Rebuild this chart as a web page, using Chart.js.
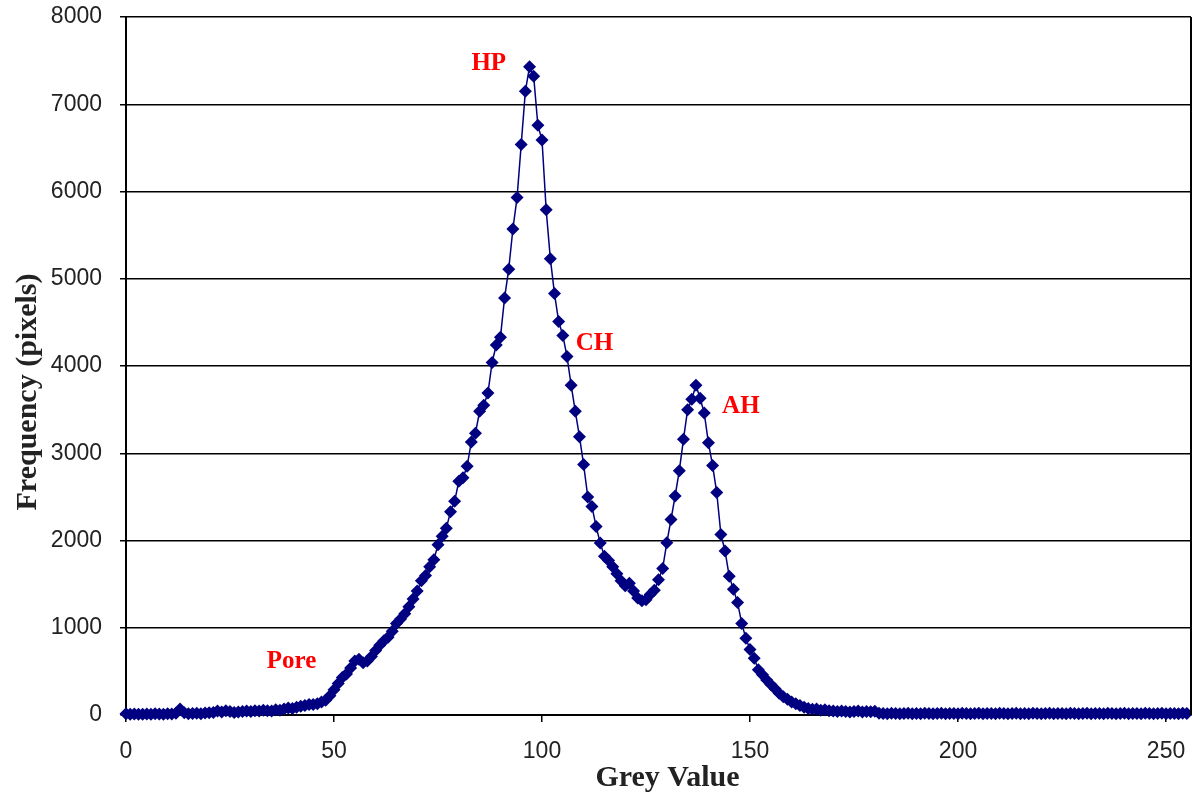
<!DOCTYPE html>
<html>
<head>
<meta charset="utf-8">
<title>Grey value histogram</title>
<script src="https://cdn.jsdelivr.net/npm/chart.js@4.4.0/dist/chart.umd.min.js"></script>
<style>
  html, body { margin: 0; padding: 0; background: #fff; }
  #wrap { width: 1192px; height: 794px; }
</style>
</head>
<body>
<div id="wrap"><canvas id="histo" width="1192" height="794"></canvas></div>
<script>
// grey value 0..255 -> pixel count
const frequency = [
  15, 10, 12, 8, 10, 12, 10, 15, 12, 10,          // 0-9
  15, 12, 20, 70, 25, 15, 18, 20, 15, 22,         // 10-19
  25, 30, 45, 35, 50, 40, 30, 35, 40, 45,         // 20-29
  40, 50, 45, 55, 50, 45, 60, 55, 70, 80,         // 30-39
  75, 90, 100, 110, 120, 120, 130, 150, 170, 220, // 40-49
  290, 360, 430, 470, 540, 620, 640, 600, 620, 670,       // 50-59
  740, 800, 850, 890, 960, 1050, 1100, 1160, 1240, 1330,  // 60-69
  1420, 1540, 1600, 1700, 1780, 1950, 2050, 2140, 2330, 2450, // 70-79
  2680, 2720, 2850, 3130, 3230, 3480, 3550, 3690, 4040, 4240, // 80-89
  4330, 4780, 5110, 5570, 5930, 6540, 7150, 7430, 7320, 6760, // 90-99
  6590, 5790, 5230, 4830, 4510, 4350, 4110, 3780, 3480, 3190, // 100-109
  2870, 2500, 2390, 2160, 1970, 1820, 1770, 1700, 1620, 1540, // 110-119
  1480, 1510, 1420, 1340, 1310, 1320, 1380, 1430, 1550, 1680, // 120-129
  1975, 2240, 2510, 2800, 3160, 3500, 3620, 3780, 3630, 3460, // 130-139
  3120, 2860, 2550, 2070, 1880, 1590, 1440, 1290, 1050, 880,  // 140-149
  750, 650, 520, 460, 400, 350, 300, 250, 210, 180,           // 150-159
  150, 130, 110, 90, 75, 65, 70, 55, 60, 50,                  // 160-169
  45, 40, 45, 40, 35, 40, 45, 35, 40, 38,                     // 170-179
  42, 20, 18, 15, 20, 18, 15, 17, 20, 15,                     // 180-189
  18, 15, 20, 17, 15, 18, 20, 15, 17, 18,                     // 190-199
  15, 20, 18, 15, 17, 20, 15, 18, 17, 15,                     // 200-209
  20, 18, 15, 17, 20, 15, 18, 15, 20, 17,                     // 210-219
  15, 18, 20, 15, 17, 18, 15, 20, 18, 15,                     // 220-229
  17, 20, 15, 18, 17, 15, 20, 18, 15, 17,                     // 230-239
  20, 15, 18, 17, 15, 20, 18, 15, 17, 20,                     // 240-249
  15, 18, 17, 15, 20, 18                                      // 250-255
];
const greyValues = frequency.map((_, i) => i);

const xTicks = [0, 50, 100, 150, 200, 250];
const yTicks = [0, 1000, 2000, 3000, 4000, 5000, 6000, 7000, 8000];

// phase labels, placed in data units
const phaseNames = ["HP", "CH", "AH", "Pore"];
const phaseX = [87.2, 112.6, 147.8, 39.8];
const phaseY = [7470, 4260, 3530, 610];

const NAVY = "#000080";

const overlay = {
  id: "overlay",
  afterDraw(chart) {
    const { ctx, chartArea, scales } = chart;
    ctx.save();
    // right frame line
    ctx.strokeStyle = "#000";
    ctx.lineWidth = 2;
    ctx.beginPath();
    ctx.moveTo(chartArea.right, chartArea.top);
    ctx.lineTo(chartArea.right, chartArea.bottom);
    ctx.stroke();

    // phase labels
    ctx.fillStyle = "#ff0000";
    ctx.font = "bold 25px 'Liberation Serif'";
    ctx.textAlign = "center";
    ctx.textBaseline = "middle";
    phaseNames.forEach((name, i) => {
      ctx.fillText(name, scales.x.getPixelForValue(phaseX[i]), scales.y.getPixelForValue(phaseY[i]));
    });

    // axis titles
    ctx.fillStyle = "#222";
    ctx.font = "bold 30px 'Liberation Serif'";
    ctx.fillText("Grey Value", (chartArea.left + chartArea.right) / 2 + 9, chartArea.bottom + 63);
    ctx.translate(28, (chartArea.top + chartArea.bottom) / 2 + 26);
    ctx.rotate(-Math.PI / 2);
    ctx.fillText("Frequency (pixels)", 0, 0);
    ctx.restore();
  }
};

new Chart(document.getElementById("histo"), {
  type: "line",
  data: {
    datasets: [{
      label: "Frequency",
      data: greyValues.map((g, i) => ({ x: g, y: frequency[i] })),
      borderColor: NAVY,
      backgroundColor: NAVY,
      borderWidth: 1.5,
      pointStyle: "rectRot",
      pointRadius: 6.5,
      pointBorderWidth: 0,
      pointBackgroundColor: NAVY,
      tension: 0,
      fill: false,
      clip: false
    }]
  },
  options: {
    responsive: false,
    animation: false,
    layout: { autoPadding: false, padding: { top: 17, right: 1, left: 0, bottom: 0 } },
    plugins: {
      legend: { display: false },
      tooltip: { enabled: false }
    },
    scales: {
      x: {
        type: "linear",
        min: 0,
        max: 256,
        afterFit: (s) => { s.height = 79; s.paddingLeft = 0; s.paddingRight = 0; },
        afterBuildTicks: (s) => { s.ticks = xTicks.map((v) => ({ value: v })); },
        ticks: {
          includeBounds: false,
          color: "#222",
          font: { family: "'Liberation Sans'", size: 23 },
          padding: 16,
          maxRotation: 0,
          callback: (v) => String(v)
        },
        grid: {
          drawOnChartArea: false,
          drawTicks: true,
          tickLength: 7,
          color: "#000",
          lineWidth: 1.5
        },
        border: { display: true, color: "#000", width: 2 }
      },
      y: {
        min: 0,
        max: 8000,
        afterFit: (s) => { s.width = 126; s.paddingTop = 0; s.paddingBottom = 0; },
        afterBuildTicks: (s) => { s.ticks = yTicks.map((v) => ({ value: v })); },
        ticks: {
          color: "#222",
          font: { family: "'Liberation Sans'", size: 23 },
          padding: 18,
          callback: (v) => String(v)
        },
        grid: {
          color: "#000",
          lineWidth: 1.5,
          tickLength: 6
        },
        border: { display: true, color: "#000", width: 2 }
      }
    }
  },
  plugins: [overlay]
});
</script>
</body>
</html>
